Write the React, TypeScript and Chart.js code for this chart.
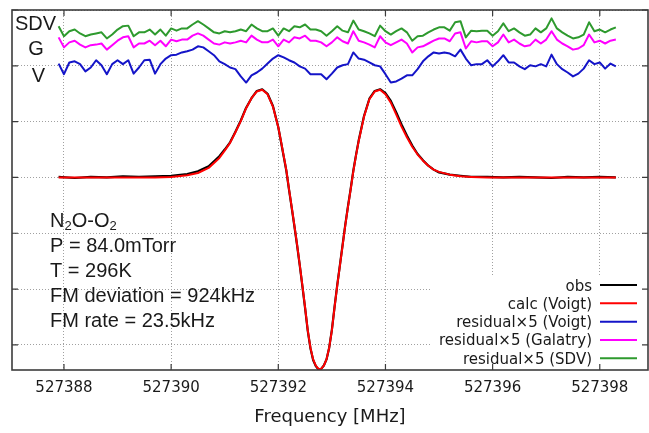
import { useEffect, useRef } from "react";
import { Chart, registerables } from "chart.js";
Chart.register(...registerables);

// ---------- data ----------
const seriesNames = ["obs", "calc (Voigt)", "residual\u00d75 (Voigt)", "residual\u00d75 (Galatry)", "residual\u00d75 (SDV)"];
const seriesColors = ["#000000", "#ff0000", "#1414c8", "#ff00ff", "#2e9a2e"];
const residualTags = ["SDV", "G", "V"];
const formulaParts: [string, boolean][] = [["N", false], ["2", true], ["O-O", false], ["2", true]];
const annotationLines = ["P = 84.0mTorr", "T = 296K", "FM deviation = 924kHz", "FM rate = 23.5kHz"];
const xTicks = [527388, 527390, 527392, 527394, 527396, 527398];
const yGrid = [-3, -2, -1, 0, 1, 2, 3];
const xTitle = "Frequency [MHz]";

// residual traces: sampled every 0.1 MHz starting at 527387.9 MHz (already offset, ×5)
const residualStart = 527387.9;
const residualStep = 0.1;
const residualV = [
  2.04, 1.85, 2.06, 2.08, 2.03, 1.90, 1.97, 2.10, 2.01, 1.85, 2.03, 2.10, 2.03, 2.10, 1.86, 1.97, 2.10, 2.11,
  1.86, 2.03, 2.13, 2.19, 2.20, 2.24, 2.26, 2.29, 2.35, 2.33, 2.26, 2.19, 2.08, 2.03, 1.97, 1.94, 1.81,
  1.70, 1.83, 1.88, 1.95, 2.04, 2.13, 2.19, 2.15, 2.10, 2.06, 1.99, 1.95, 1.85, 1.85, 1.85, 1.76, 1.86, 1.97,
  2.01, 2.03, 2.24, 2.13, 2.11, 2.06, 2.01, 1.99, 1.85, 1.70, 1.72, 1.77, 1.83, 1.83, 1.94, 2.08, 2.17, 2.24,
  2.22, 2.24, 2.22, 2.17, 2.29, 2.13, 2.01, 2.03, 2.03, 2.10, 1.99, 2.08, 2.19, 2.06, 2.06, 1.99, 1.94,
  2.01, 1.99, 2.03, 1.99, 2.20, 2.03, 1.94, 1.88, 1.81, 1.86, 1.95, 2.10, 2.03, 2.06, 1.95, 2.04, 1.99,
];
const residualG = [
  2.51, 2.33, 2.42, 2.45, 2.38, 2.33, 2.37, 2.38, 2.40, 2.29, 2.37, 2.45, 2.51, 2.53, 2.33, 2.40, 2.40, 2.45,
  2.37, 2.45, 2.35, 2.47, 2.44, 2.47, 2.47, 2.54, 2.58, 2.54, 2.47, 2.40, 2.38, 2.42, 2.40, 2.42, 2.45,
  2.42, 2.54, 2.47, 2.42, 2.42, 2.47, 2.35, 2.47, 2.42, 2.51, 2.49, 2.54, 2.45, 2.45, 2.42, 2.35, 2.42, 2.51,
  2.44, 2.40, 2.62, 2.45, 2.42, 2.38, 2.33, 2.53, 2.42, 2.37, 2.42, 2.47, 2.40, 2.24, 2.33, 2.35, 2.40, 2.45,
  2.49, 2.49, 2.44, 2.58, 2.60, 2.31, 2.44, 2.42, 2.44, 2.44, 2.35, 2.42, 2.56, 2.42, 2.47, 2.40, 2.35,
  2.37, 2.47, 2.40, 2.47, 2.62, 2.47, 2.40, 2.35, 2.29, 2.31, 2.37, 2.56, 2.42, 2.45, 2.40, 2.45, 2.47,
];
const residualSDV = [
  2.71, 2.53, 2.62, 2.65, 2.58, 2.53, 2.56, 2.58, 2.60, 2.49, 2.56, 2.65, 2.71, 2.72, 2.53, 2.60, 2.60, 2.65,
  2.56, 2.65, 2.54, 2.67, 2.63, 2.67, 2.67, 2.74, 2.80, 2.74, 2.67, 2.60, 2.58, 2.62, 2.60, 2.62, 2.65,
  2.62, 2.74, 2.67, 2.62, 2.62, 2.67, 2.54, 2.67, 2.62, 2.71, 2.69, 2.74, 2.65, 2.65, 2.62, 2.54, 2.62, 2.71,
  2.63, 2.60, 2.81, 2.65, 2.62, 2.58, 2.53, 2.72, 2.62, 2.56, 2.62, 2.67, 2.60, 2.45, 2.53, 2.54, 2.60, 2.65,
  2.69, 2.69, 2.63, 2.78, 2.80, 2.51, 2.63, 2.62, 2.63, 2.63, 2.54, 2.62, 2.76, 2.62, 2.67, 2.60, 2.54,
  2.56, 2.67, 2.60, 2.67, 2.85, 2.67, 2.60, 2.54, 2.49, 2.51, 2.56, 2.78, 2.62, 2.65, 2.60, 2.65, 2.69,
];

// spectrum
const specFreq = [
  527387.9, 527388.2, 527388.5, 527388.8, 527389.1, 527389.4, 527389.7, 527390.0, 527390.3, 527390.5, 527390.7,
  527390.8, 527390.9, 527391.0, 527391.1, 527391.2, 527391.3, 527391.4, 527391.5, 527391.6, 527391.7, 527391.8, 527391.9, 527392.0,
  527392.05, 527392.1, 527392.15, 527392.2, 527392.25, 527392.3, 527392.35, 527392.4, 527392.45, 527392.5,
  527392.55, 527392.6, 527392.65, 527392.7, 527392.75, 527392.8, 527392.85, 527392.9, 527392.95, 527393.0,
  527393.05, 527393.1, 527393.15, 527393.2, 527393.25, 527393.3, 527393.35, 527393.4, 527393.45, 527393.5,
  527393.6, 527393.7, 527393.8, 527393.9, 527394.0, 527394.1, 527394.2, 527394.3, 527394.4, 527394.5, 527394.6, 527394.7, 527394.8, 527394.9, 527395.0,
  527395.2, 527395.4, 527395.6,
  527395.9, 527396.2, 527396.5, 527396.8, 527397.1, 527397.4, 527397.7, 527398.0, 527398.3,
];
const calcValues = [
  0, 0, 0, 0, 0, 0, 0, 0.01, 0.04, 0.08, 0.17,
  0.26, 0.35, 0.48, 0.62, 0.81, 1.01, 1.24, 1.42, 1.54, 1.57, 1.49, 1.27, 0.90,
  0.65, 0.39, 0.13, -0.21, -0.53, -0.86, -1.20, -1.56, -1.94, -2.33,
  -2.74, -3.05, -3.26, -3.37, -3.43, -3.43, -3.37, -3.26, -3.05, -2.74,
  -2.33, -1.94, -1.58, -1.22, -0.86, -0.53, -0.22, 0.11, 0.39, 0.65,
  1.09, 1.40, 1.54, 1.57, 1.49, 1.34, 1.13, 0.91, 0.72, 0.55, 0.41, 0.30, 0.21, 0.14, 0.10,
  0.05, 0.02, 0.01,
  0, 0, 0, 0, 0, 0, 0, 0, 0,
];
const obsValues = [
  0.01, -0.01, 0.01, 0.00, 0.02, 0.01, 0.02, 0.03, 0.06, 0.11, 0.20,
  0.29, 0.38, 0.50, 0.63, 0.82, 1.02, 1.25, 1.42, 1.55, 1.58, 1.50, 1.28, 0.90,
  0.64, 0.38, 0.12, -0.22, -0.54, -0.87, -1.21, -1.57, -1.95, -2.34,
  -2.75, -3.06, -3.27, -3.38, -3.44, -3.43, -3.37, -3.26, -3.05, -2.73,
  -2.32, -1.93, -1.57, -1.21, -0.85, -0.52, -0.21, 0.12, 0.40, 0.66,
  1.10, 1.41, 1.55, 1.58, 1.51, 1.37, 1.17, 0.95, 0.75, 0.57, 0.42, 0.31, 0.21, 0.14, 0.09,
  0.05, 0.03, 0.01,
  0.01, 0.00, 0.01, 0.00, -0.01, 0.01, 0.00, 0.01, 0.00,
];

const residualPoints = (vals: number[]) =>
  vals.map((v, i) => ({ x: Math.round((residualStart + i * residualStep) * 100) / 100, y: v }));
const specPoints = (vals: number[]) => vals.map((v, i) => ({ x: specFreq[i], y: v }));

const TEXT = "#1a1a1a";
const SANS = '"Liberation Sans", Arial, sans-serif';
const DJ = '"DejaVu Sans", sans-serif';

const overlay = {
  id: "overlay",
  afterDatasetsDraw(chart: any) {
    const { ctx, chartArea: ca, scales } = chart;
    const xs = scales.x;
    const ys = scales.y;
    ctx.save();

    // residual tags
    ctx.fillStyle = TEXT;
    ctx.font = `20px ${SANS}`;
    ctx.textAlign = "center";
    ctx.textBaseline = "alphabetic";
    const tagPos = [[ca.left + 23.5, ca.top + 20], [ca.left + 24, ca.top + 45], [ca.left + 26.5, ca.top + 72]];
    residualTags.forEach((t, i) => ctx.fillText(t, tagPos[i][0], tagPos[i][1]));

    // annotation block
    ctx.textAlign = "left";
    const ax = ca.left + 38;
    let cx = ax;
    const fy = ca.top + 216.5;
    for (const [t, sub] of formulaParts) {
      ctx.font = sub ? `13px ${SANS}` : `20px ${SANS}`;
      ctx.fillText(t, cx, sub ? fy + 3.5 : fy);
      cx += ctx.measureText(t).width;
    }
    ctx.font = `20px ${SANS}`;
    annotationLines.forEach((t, i) => ctx.fillText(t, ax, fy + 25 * (i + 1) + (i === 0 ? 0 : 0.5)));

    // legend (opaque key)
    const boxL = ca.left + 420;
    const boxT = ca.bottom - 94;
    ctx.fillStyle = "#ffffff";
    ctx.fillRect(boxL, boxT, ca.right - boxL - 1, ca.bottom - boxT - 1);
    ctx.font = `15px ${DJ}`;
    ctx.textAlign = "right";
    const textR = ca.right - 56;
    const l1 = ca.right - 48;
    const l2 = ca.right - 11;
    seriesNames.forEach((name, i) => {
      const ry = ca.bottom - 85 + i * 18.33;
      ctx.fillStyle = TEXT;
      ctx.fillText(name, textR, ry + 5.5);
      ctx.strokeStyle = seriesColors[i];
      ctx.lineWidth = 2;
      ctx.beginPath();
      ctx.moveTo(l1, ry);
      ctx.lineTo(l2, ry);
      ctx.stroke();
    });

    // frame and inward ticks
    ctx.strokeStyle = "#3c3c3c";
    ctx.lineWidth = 1.6;
    ctx.strokeRect(ca.left, ca.top, ca.width, ca.height);
    ctx.lineWidth = 1.2;
    ctx.beginPath();
    xTicks.forEach((v) => {
      const px = xs.getPixelForValue(v);
      ctx.moveTo(px, ca.bottom);
      ctx.lineTo(px, ca.bottom - 6);
      ctx.moveTo(px, ca.top);
      ctx.lineTo(px, ca.top + 6);
    });
    yGrid.forEach((v) => {
      const py = ys.getPixelForValue(v);
      ctx.moveTo(ca.left, py);
      ctx.lineTo(ca.left + 6, py);
      ctx.moveTo(ca.right, py);
      ctx.lineTo(ca.right - 6, py);
    });
    ctx.stroke();
    ctx.restore();
  },
};

export default function App() {
  const ref = useRef<HTMLCanvasElement | null>(null);
  useEffect(() => {
    if (!ref.current) return;
    const line = (i: number, data: any[], width: number, order: number) => ({
      label: seriesNames[i],
      data,
      borderColor: seriesColors[i],
      backgroundColor: seriesColors[i],
      borderWidth: width,
      pointRadius: 0,
      tension: 0,
      fill: false,
      order,
      borderJoinStyle: "round" as const,
    });
    const chart = new Chart(ref.current, {
      type: "line",
      data: {
        datasets: [
          line(0, specPoints(obsValues), 2.2, 1),
          line(1, specPoints(calcValues), 2, 0),
          line(2, residualPoints(residualV), 2, 2),
          line(3, residualPoints(residualG), 2, 3),
          line(4, residualPoints(residualSDV), 2, 4),
        ],
      },
      options: {
        responsive: false,
        maintainAspectRatio: false,
        devicePixelRatio: 1,
        animation: false,
        parsing: true,
        layout: { padding: { top: 10, right: 1, left: 0, bottom: 0 } },
        plugins: { legend: { display: false }, tooltip: { enabled: false } },
        scales: {
          x: {
            type: "linear",
            min: 527387.03,
            max: 527398.9,
            afterBuildTicks: (s: any) => {
              s.ticks = xTicks.map((v) => ({ value: v }));
            },
            afterFit: (s: any) => {
              s.height = 63;
            },
            grid: { color: "#a0a0a0", lineWidth: 1, drawTicks: false },
            border: { display: false, dash: [1, 2] },
            ticks: {
              color: TEXT,
              font: { family: "DejaVu Sans", size: 15 },
              padding: 9,
              maxRotation: 0,
              autoSkip: false,
              callback: (v: any) => String(v),
            },
            title: {
              display: true,
              text: xTitle,
              color: TEXT,
              font: { family: "DejaVu Sans", size: 18 },
              padding: { top: 0, bottom: 5 },
            },
          },
          y: {
            type: "linear",
            min: -3.45,
            max: 3.0,
            afterBuildTicks: (s: any) => {
              s.ticks = yGrid.map((v) => ({ value: v }));
            },
            afterFit: (s: any) => {
              s.width = 12;
            },
            grid: { color: "#a0a0a0", lineWidth: 1, drawTicks: false },
            border: { display: false, dash: [1, 2] },
            ticks: { display: false },
          },
        },
      },
      plugins: [overlay],
    });
    return () => chart.destroy();
  }, []);
  return (
    <div style={{ position: "absolute", left: 0, top: 0, width: 649, height: 433, background: "#fff" }}>
      <canvas ref={ref} width={649} height={433} style={{ width: 649, height: 433, display: "block" }} />
    </div>
  );
}
